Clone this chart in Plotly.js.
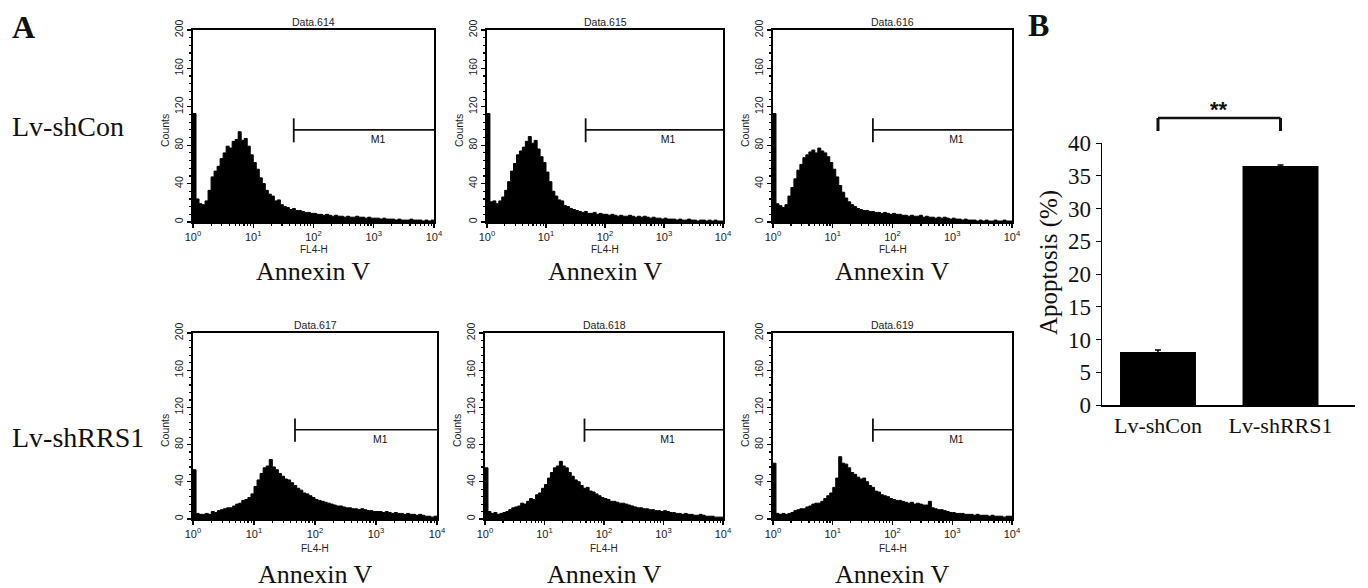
<!DOCTYPE html>
<html><head><meta charset="utf-8">
<script src="https://cdn.plot.ly/plotly-3.0.1.min.js"></script>
<style>html,body{margin:0;padding:0;background:#fff}#chart{width:1368px;height:588px}</style>
</head><body><div id="chart"></div>
<script>
// ---------- data ----------
const panelTitles = ['Data.614', 'Data.615', 'Data.616', 'Data.617', 'Data.618', 'Data.619'];

// FL4-H histogram counts, 80 log-spaced channels from 10^0 to 10^4
const hist614 = [113,24,19,18,22,33,47,53,58,66,
  72,79,77,84,86,94,85,87,79,70,
  62,55,46,40,33,29,27,22,23,18,
  16,15,13,14,12,12,11,10,10,9,
  9,8,8,7,8,7,6,7,6,6,
  5,6,5,5,6,5,5,4,5,4,
  4,4,3,4,3,3,3,2,3,2,
  2,2,3,2,2,2,1,2,1,2];
const hist615 = [113,21,22,19,22,26,33,42,53,61,
  70,74,78,84,89,82,85,76,68,62,
  52,42,32,27,23,22,17,16,14,13,
  12,11,10,11,9,9,10,8,9,8,
  8,7,8,7,6,7,6,6,7,6,
  5,6,5,6,5,4,5,4,4,3,
  4,3,3,3,2,3,2,2,3,2,
  2,1,2,2,1,2,1,2,1,1];
const hist616 = [113,19,17,15,18,27,36,45,54,60,
  67,70,73,75,72,77,74,72,68,62,
  55,47,38,31,25,21,18,16,14,13,
  12,12,11,11,10,10,9,10,9,8,
  9,8,8,7,7,6,7,6,6,7,
  5,6,5,5,4,5,4,5,4,3,
  4,3,3,2,3,2,2,2,1,2,
  1,2,1,1,2,1,1,2,1,1];
const hist617 = [53,6,5,5,6,5,8,7,9,10,
  11,12,12,14,16,17,20,21,23,27,
  35,42,49,55,57,64,56,53,49,46,
  43,42,39,36,33,31,28,27,25,23,
  21,20,19,18,17,16,15,14,14,13,
  12,12,11,11,10,11,10,9,9,8,
  8,8,7,8,7,6,7,6,6,5,
  6,5,5,4,5,4,3,3,2,3];
const hist618 = [55,8,6,7,5,6,7,8,10,12,
  13,14,17,16,19,22,21,26,28,33,
  37,44,50,55,57,62,57,55,50,46,
  42,40,36,33,34,30,29,27,25,23,
  22,21,19,19,18,17,17,16,15,14,
  13,12,12,11,11,10,10,9,9,8,
  9,8,7,7,6,6,5,6,5,5,
  4,4,5,4,3,3,3,2,2,2];
const hist619 = [60,6,5,6,5,6,7,9,10,11,
  11,13,14,16,17,17,19,22,25,28,
  34,44,67,60,59,55,50,48,45,43,
  44,40,36,34,30,29,26,25,24,22,
  21,20,20,19,18,17,18,16,17,16,
  15,15,19,12,11,10,10,9,8,7,
  7,6,6,6,5,5,5,4,5,4,
  4,4,3,4,3,3,3,2,3,3];
const histograms = [hist614, hist615, hist616, hist617, hist618, hist619];

const rowLabels = ['Lv-shCon', 'Lv-shRRS1'];
const countTicks = [0, 40, 80, 120, 160, 200];
const fluorTicks = [1, 10, 100, 1000, 10000];
const fluorTickText = ['10<sup>0</sup>', '10<sup>1</sup>', '10<sup>2</sup>', '10<sup>3</sup>', '10<sup>4</sup>'];
const fluorMinor = [2,3,4,5,6,7,8,9, 20,30,40,50,60,70,80,90, 200,300,400,500,600,700,800,900, 2000,3000,4000,5000,6000,7000,8000,9000];
const gateM1X = [47, 10000];
const gateM1Level = [96, 96];
const gateM1Tick = [83, 108];
const gateLabelPos = [1175, 85];

const groups = ['Lv-shCon', 'Lv-shRRS1'];
const apoptosis = [8.1, 36.5];
const apoptosisErr = [0.3, 0.15];

// ---------- layout helpers ----------
const W = 1368, H = 588;
const fx = p => p / W, fy = p => 1 - p / H;
const panelsPx = [
  {x: [193, 434], y: [30, 222]},
  {x: [487, 723], y: [30, 222]},
  {x: [773, 1012], y: [30, 222]},
  {x: [193, 437], y: [333, 519]},
  {x: [485, 723], y: [333, 519]},
  {x: [773, 1012], y: [333, 519]}
];
const SANS = 'Liberation Sans, Arial, sans-serif';
const SERIF = 'Liberation Serif, Times New Roman, serif';

const nBins = 80;
const edges = Array.from({length: nBins + 1}, (_, i) => Math.pow(10, i * 4 / nBins));

const traces = [];
const layout = {
  width: W, height: H, margin: {l: 0, r: 0, t: 0, b: 0},
  paper_bgcolor: '#fff', plot_bgcolor: 'rgba(0,0,0,0)', showlegend: false,
  annotations: [], shapes: []
};

histograms.forEach((vals, k) => {
  const s = k === 0 ? '' : String(k + 1);
  const p = panelsPx[k];
  const xa = 'x' + s, ya = 'y' + s;
  traces.push({
    type: 'scatter', mode: 'lines', x: edges, y: vals.concat([vals[vals.length - 1]]),
    line: {shape: 'hv', color: '#000', width: 1}, fill: 'tozeroy', fillcolor: '#000',
    xaxis: xa, yaxis: ya, hoverinfo: 'skip'
  });
  traces.push({type: 'scatter', mode: 'lines', x: gateM1X, y: gateM1Level,
    line: {color: '#111', width: 1.6}, xaxis: xa, yaxis: ya, hoverinfo: 'skip'});
  traces.push({type: 'scatter', mode: 'lines', x: [gateM1X[0], gateM1X[0]], y: gateM1Tick,
    line: {color: '#111', width: 1.8}, xaxis: xa, yaxis: ya, hoverinfo: 'skip'});
  traces.push({type: 'scatter', mode: 'text', x: [gateLabelPos[0]], y: [gateLabelPos[1]], text: ['M1'],
    textfont: {family: SANS, size: 10.5, color: '#111'}, xaxis: xa, yaxis: ya, hoverinfo: 'skip'});

  layout['xaxis' + s] = {
    domain: [fx(p.x[0]), fx(p.x[1])], anchor: ya, type: 'log', range: [0, 4],
    showline: true, mirror: true, linecolor: '#000', linewidth: 1.6,
    ticks: 'outside', ticklen: 4, tickwidth: 1.2, tickcolor: '#000',
    tickmode: 'array', tickvals: fluorTicks, ticktext: fluorTickText,
    tickfont: {family: SANS, size: 11, color: '#222'},
    showgrid: false, zeroline: false, fixedrange: true,
    minor: {tickmode: 'array', tickvals: fluorMinor, ticks: 'outside', ticklen: 2.5, tickcolor: '#000', showgrid: false}
  };
  layout['yaxis' + s] = {
    domain: [fy(p.y[1]), fy(p.y[0])], anchor: xa, range: [0, 200],
    showline: true, mirror: true, linecolor: '#000', linewidth: 1.6,
    ticks: 'outside', ticklen: 4, tickwidth: 1.2, tickcolor: '#000',
    tickmode: 'array', tickvals: countTicks, tickangle: -90,
    tickfont: {family: SANS, size: 10.5, color: '#222'},
    showgrid: false, zeroline: false, fixedrange: true,
    minor: {dtick: 8, tick0: 0, ticks: 'outside', ticklen: 2.5, tickcolor: '#000', showgrid: false}
  };
  const cx = fx((p.x[0] + p.x[1]) / 2);
  const top = k < 3;
  layout.annotations.push(
    {xref: 'paper', yref: 'paper', x: cx, y: fy(p.y[0] - 8), text: panelTitles[k], showarrow: false,
     font: {family: SANS, size: 10.5, color: '#222'}, xanchor: 'center', yanchor: 'middle'},
    {xref: 'paper', yref: 'paper', x: fx(p.x[0] - 28), y: fy(top ? 131 : 431), text: 'Counts', showarrow: false,
     textangle: -90, font: {family: SANS, size: 10.5, color: '#222'}, xanchor: 'center', yanchor: 'middle'},
    {xref: 'paper', yref: 'paper', x: cx, y: fy(top ? 250 : 548), text: 'FL4-H', showarrow: false,
     font: {family: SANS, size: 10, color: '#222'}, xanchor: 'center', yanchor: 'middle'},
    {xref: 'paper', yref: 'paper', x: cx, y: fy(top ? 271 : 574), text: 'Annexin V', showarrow: false,
     font: {family: SERIF, size: 26, color: '#111'}, xanchor: 'center', yanchor: 'middle'}
  );
});

// row labels and panel letters
layout.annotations.push(
  {xref: 'paper', yref: 'paper', x: fx(10), y: fy(127), text: rowLabels[0], showarrow: false,
   font: {family: SERIF, size: 28, color: '#111'}, xanchor: 'left', yanchor: 'middle'},
  {xref: 'paper', yref: 'paper', x: fx(10), y: fy(437), text: rowLabels[1], showarrow: false,
   font: {family: SERIF, size: 28, color: '#111'}, xanchor: 'left', yanchor: 'middle'},
  {xref: 'paper', yref: 'paper', x: fx(10), y: fy(27), text: '<b>A</b>', showarrow: false,
   font: {family: SERIF, size: 32, color: '#111'}, xanchor: 'left', yanchor: 'middle'},
  {xref: 'paper', yref: 'paper', x: fx(1026), y: fy(25), text: '<b>B</b>', showarrow: false,
   font: {family: SERIF, size: 32, color: '#111'}, xanchor: 'left', yanchor: 'middle'},
  {xref: 'paper', yref: 'paper', x: fx(1049), y: fy(263), text: 'Apoptosis (%)', showarrow: false,
   textangle: -90, font: {family: SERIF, size: 25, color: '#111'}, xanchor: 'center', yanchor: 'middle'},
  {xref: 'x7', yref: 'paper', x: 0.5, y: fy(110), text: '<b>**</b>', showarrow: false,
   font: {family: SANS, size: 22, color: '#111'}, xanchor: 'center', yanchor: 'middle'}
);

// bar chart B
traces.push({
  type: 'bar', x: groups, y: apoptosis, width: 0.62, marker: {color: '#000', line: {width: 0}},
  error_y: {type: 'data', array: apoptosisErr, visible: true, color: '#000', thickness: 1.5, width: 3},
  xaxis: 'x7', yaxis: 'y7', hoverinfo: 'skip'
});
layout.xaxis7 = {
  domain: [fx(1102), fx(1355)], anchor: 'y7', type: 'category', range: [-0.457, 1.608],
  showline: true, linecolor: '#000', linewidth: 1.5, ticks: '', showgrid: false, zeroline: false,
  tickfont: {family: SERIF, size: 22, color: '#111'}, fixedrange: true
};
layout.yaxis7 = {
  domain: [fy(405), fy(143)], anchor: 'x7', range: [0, 40], dtick: 5, tick0: 0,
  showline: true, linecolor: '#000', linewidth: 1.5, ticks: 'outside', ticklen: 5, tickcolor: '#000',
  showgrid: false, zeroline: false, tickfont: {family: SERIF, size: 23, color: '#111'}, fixedrange: true
};
// significance bracket
const bracketTop = fy(118), bracketFoot = fy(131);
layout.shapes.push(
  {type: 'line', xref: 'x7', yref: 'paper', x0: 0, x1: 1, y0: bracketTop, y1: bracketTop, line: {color: '#111', width: 2.5}},
  {type: 'line', xref: 'x7', yref: 'paper', x0: 0, x1: 0, y0: bracketTop, y1: bracketFoot, line: {color: '#111', width: 3}},
  {type: 'line', xref: 'x7', yref: 'paper', x0: 1, x1: 1, y0: bracketTop, y1: bracketFoot, line: {color: '#111', width: 3}}
);

Plotly.newPlot('chart', traces, layout, {staticPlot: true, displayModeBar: false});
</script>
</body></html>
